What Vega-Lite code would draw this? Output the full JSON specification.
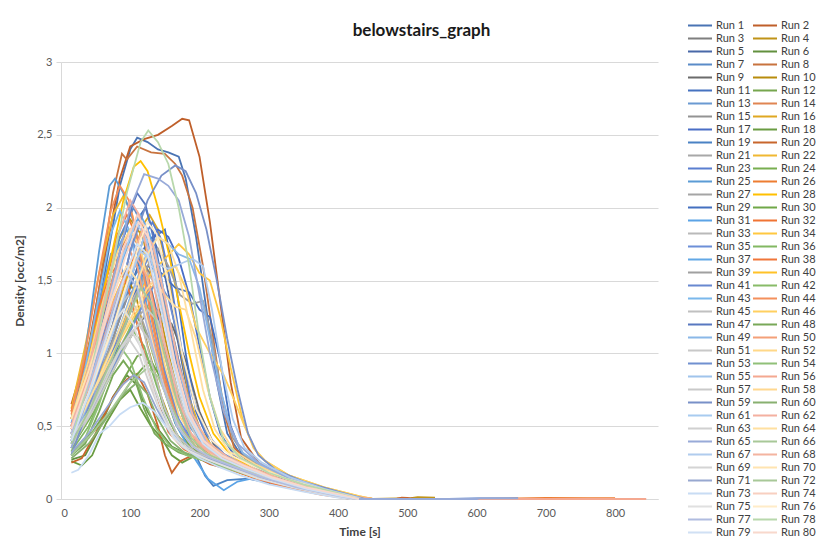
{
 "$schema": "https://vega.github.io/schema/vega-lite/v6.json",
 "width": 597,
 "height": 437,
 "autosize": {"type": "none"},
 "padding": {"left": 61, "top": 62, "right": 168, "bottom": 49},
 "background": "white",
 "title": {"text": "belowstairs_graph", "font": "Lato", "fontSize": 17, "fontWeight": "bold", "color": "#1a1a1a", "anchor": "middle", "dx": 62, "offset": -21},
 "config": {"view": {"stroke": null}, "font": "Lato"},
 "data": {"values": [
{"r":1,"t":15,"d":0.45},{"r":1,"t":40,"d":0.9},{"r":1,"t":65,"d":1.6},{"r":1,"t":85,"d":2.15},{"r":1,"t":100,"d":2.4},{"r":1,"t":110,"d":2.48},{"r":1,"t":125,"d":2.45},{"r":1,"t":140,"d":2.4},{"r":1,"t":155,"d":2.38},{"r":1,"t":170,"d":2.35},{"r":1,"t":180,"d":2.2},{"r":1,"t":195,"d":1.8},{"r":1,"t":210,"d":1.3},{"r":1,"t":225,"d":0.8},{"r":1,"t":240,"d":0.45},{"r":1,"t":260,"d":0.3},{"r":1,"t":290,"d":0.2},{"r":1,"t":330,"d":0.12},{"r":1,"t":380,"d":0.06},{"r":1,"t":430,"d":0},
{"r":2,"t":15,"d":0.65},{"r":2,"t":40,"d":1.05},{"r":2,"t":65,"d":1.7},{"r":2,"t":85,"d":2.2},{"r":2,"t":100,"d":2.42},{"r":2,"t":120,"d":2.47},{"r":2,"t":140,"d":2.5},{"r":2,"t":160,"d":2.56},{"r":2,"t":175,"d":2.61},{"r":2,"t":185,"d":2.6},{"r":2,"t":200,"d":2.35},{"r":2,"t":215,"d":1.9},{"r":2,"t":230,"d":1.35},{"r":2,"t":245,"d":0.8},{"r":2,"t":260,"d":0.42},{"r":2,"t":285,"d":0.25},{"r":2,"t":320,"d":0.14},{"r":2,"t":370,"d":0.07},{"r":2,"t":420,"d":0.02},{"r":2,"t":450,"d":0},
{"r":3,"t":15,"d":0.42},{"r":3,"t":40,"d":0.75},{"r":3,"t":65,"d":1.15},{"r":3,"t":90,"d":1.5},{"r":3,"t":115,"d":1.65},{"r":3,"t":135,"d":1.5},{"r":3,"t":155,"d":1.1},{"r":3,"t":175,"d":0.7},{"r":3,"t":195,"d":0.45},{"r":3,"t":220,"d":0.32},{"r":3,"t":250,"d":0.25},{"r":3,"t":290,"d":0.17},{"r":3,"t":340,"d":0.1},{"r":3,"t":390,"d":0.04},{"r":3,"t":425,"d":0},
{"r":4,"t":15,"d":0.6},{"r":4,"t":35,"d":0.95},{"r":4,"t":55,"d":1.35},{"r":4,"t":80,"d":1.75},{"r":4,"t":100,"d":1.92},{"r":4,"t":118,"d":1.8},{"r":4,"t":135,"d":1.45},{"r":4,"t":155,"d":1.0},{"r":4,"t":175,"d":0.62},{"r":4,"t":200,"d":0.4},{"r":4,"t":230,"d":0.3},{"r":4,"t":265,"d":0.22},{"r":4,"t":310,"d":0.13},{"r":4,"t":360,"d":0.07},{"r":4,"t":410,"d":0.02},{"r":4,"t":450,"d":0},{"r":4,"t":505,"d":0.006},{"r":4,"t":515,"d":0.012},{"r":4,"t":540,"d":0.01},
{"r":5,"t":15,"d":0.38},{"r":5,"t":45,"d":0.7},{"r":5,"t":75,"d":1.1},{"r":5,"t":100,"d":1.45},{"r":5,"t":120,"d":1.72},{"r":5,"t":132,"d":1.8},{"r":5,"t":145,"d":1.65},{"r":5,"t":160,"d":1.3},{"r":5,"t":178,"d":0.85},{"r":5,"t":195,"d":0.5},{"r":5,"t":215,"d":0.33},{"r":5,"t":245,"d":0.24},{"r":5,"t":285,"d":0.16},{"r":5,"t":335,"d":0.09},{"r":5,"t":385,"d":0.04},{"r":5,"t":420,"d":0},
{"r":6,"t":15,"d":0.27},{"r":6,"t":35,"d":0.3},{"r":6,"t":55,"d":0.48},{"r":6,"t":75,"d":0.7},{"r":6,"t":95,"d":0.85},{"r":6,"t":110,"d":0.78},{"r":6,"t":125,"d":0.6},{"r":6,"t":140,"d":0.48},{"r":6,"t":160,"d":0.36},{"r":6,"t":185,"d":0.3},{"r":6,"t":210,"d":0.26},{"r":6,"t":240,"d":0.22},{"r":6,"t":280,"d":0.15},{"r":6,"t":330,"d":0.09},{"r":6,"t":380,"d":0.05},{"r":6,"t":430,"d":0},
{"r":7,"t":15,"d":0.5},{"r":7,"t":40,"d":0.9},{"r":7,"t":65,"d":1.4},{"r":7,"t":85,"d":1.8},{"r":7,"t":105,"d":2.0},{"r":7,"t":120,"d":1.85},{"r":7,"t":140,"d":1.5},{"r":7,"t":160,"d":1.05},{"r":7,"t":180,"d":0.65},{"r":7,"t":200,"d":0.42},{"r":7,"t":225,"d":0.3},{"r":7,"t":260,"d":0.22},{"r":7,"t":300,"d":0.14},{"r":7,"t":350,"d":0.08},{"r":7,"t":400,"d":0.03},{"r":7,"t":430,"d":0},
{"r":8,"t":15,"d":0.55},{"r":8,"t":40,"d":1.0},{"r":8,"t":60,"d":1.6},{"r":8,"t":75,"d":2.1},{"r":8,"t":88,"d":2.37},{"r":8,"t":95,"d":2.33},{"r":8,"t":110,"d":2.42},{"r":8,"t":130,"d":2.38},{"r":8,"t":150,"d":2.37},{"r":8,"t":165,"d":2.3},{"r":8,"t":175,"d":2.22},{"r":8,"t":190,"d":2.0},{"r":8,"t":205,"d":1.6},{"r":8,"t":220,"d":1.1},{"r":8,"t":235,"d":0.6},{"r":8,"t":250,"d":0.35},{"r":8,"t":280,"d":0.22},{"r":8,"t":320,"d":0.13},{"r":8,"t":370,"d":0.06},{"r":8,"t":420,"d":0.01},
{"r":9,"t":15,"d":0.35},{"r":9,"t":45,"d":0.6},{"r":9,"t":75,"d":0.9},{"r":9,"t":105,"d":1.15},{"r":9,"t":125,"d":1.28},{"r":9,"t":140,"d":1.3},{"r":9,"t":160,"d":1.2},{"r":9,"t":180,"d":0.95},{"r":9,"t":200,"d":0.6},{"r":9,"t":220,"d":0.38},{"r":9,"t":245,"d":0.26},{"r":9,"t":280,"d":0.18},{"r":9,"t":330,"d":0.1},{"r":9,"t":380,"d":0.05},{"r":9,"t":420,"d":0},
{"r":10,"t":15,"d":0.55},{"r":10,"t":35,"d":0.85},{"r":10,"t":60,"d":1.25},{"r":10,"t":80,"d":1.5},{"r":10,"t":92,"d":1.55},{"r":10,"t":108,"d":1.4},{"r":10,"t":125,"d":1.05},{"r":10,"t":145,"d":0.7},{"r":10,"t":165,"d":0.45},{"r":10,"t":190,"d":0.33},{"r":10,"t":220,"d":0.27},{"r":10,"t":255,"d":0.2},{"r":10,"t":300,"d":0.12},{"r":10,"t":350,"d":0.06},{"r":10,"t":400,"d":0.02},{"r":10,"t":425,"d":0},
{"r":11,"t":15,"d":0.4},{"r":11,"t":45,"d":0.75},{"r":11,"t":75,"d":1.2},{"r":11,"t":100,"d":1.7},{"r":11,"t":115,"d":1.95},{"r":11,"t":122,"d":2.0},{"r":11,"t":135,"d":1.8},{"r":11,"t":150,"d":1.85},{"r":11,"t":165,"d":1.5},{"r":11,"t":180,"d":1.0},{"r":11,"t":195,"d":0.6},{"r":11,"t":215,"d":0.38},{"r":11,"t":240,"d":0.27},{"r":11,"t":275,"d":0.2},{"r":11,"t":320,"d":0.12},{"r":11,"t":370,"d":0.06},{"r":11,"t":420,"d":0.01},
{"r":12,"t":15,"d":0.3},{"r":12,"t":40,"d":0.42},{"r":12,"t":65,"d":0.6},{"r":12,"t":90,"d":0.82},{"r":12,"t":110,"d":0.98},{"r":12,"t":122,"d":1.0},{"r":12,"t":135,"d":0.85},{"r":12,"t":150,"d":0.6},{"r":12,"t":170,"d":0.42},{"r":12,"t":195,"d":0.32},{"r":12,"t":225,"d":0.27},{"r":12,"t":260,"d":0.2},{"r":12,"t":300,"d":0.13},{"r":12,"t":350,"d":0.07},{"r":12,"t":400,"d":0.03},{"r":12,"t":430,"d":0},
{"r":13,"t":15,"d":0.5},{"r":13,"t":35,"d":0.85},{"r":13,"t":55,"d":1.35},{"r":13,"t":72,"d":1.68},{"r":13,"t":85,"d":1.62},{"r":13,"t":100,"d":1.4},{"r":13,"t":120,"d":1.0},{"r":13,"t":140,"d":0.65},{"r":13,"t":160,"d":0.45},{"r":13,"t":185,"d":0.33},{"r":13,"t":215,"d":0.27},{"r":13,"t":250,"d":0.2},{"r":13,"t":295,"d":0.13},{"r":13,"t":345,"d":0.07},{"r":13,"t":400,"d":0.02},{"r":13,"t":420,"d":0},
{"r":14,"t":15,"d":0.45},{"r":14,"t":40,"d":0.85},{"r":14,"t":65,"d":1.35},{"r":14,"t":85,"d":1.7},{"r":14,"t":100,"d":1.85},{"r":14,"t":115,"d":1.7},{"r":14,"t":132,"d":1.3},{"r":14,"t":150,"d":0.85},{"r":14,"t":170,"d":0.52},{"r":14,"t":192,"d":0.36},{"r":14,"t":220,"d":0.28},{"r":14,"t":252,"d":0.21},{"r":14,"t":292,"d":0.14},{"r":14,"t":342,"d":0.07},{"r":14,"t":392,"d":0.03},{"r":14,"t":420,"d":0},
{"r":15,"t":15,"d":0.4},{"r":15,"t":45,"d":0.72},{"r":15,"t":75,"d":1.1},{"r":15,"t":95,"d":1.38},{"r":15,"t":107,"d":1.45},{"r":15,"t":122,"d":1.3},{"r":15,"t":140,"d":0.95},{"r":15,"t":160,"d":0.6},{"r":15,"t":180,"d":0.4},{"r":15,"t":205,"d":0.31},{"r":15,"t":235,"d":0.25},{"r":15,"t":270,"d":0.19},{"r":15,"t":315,"d":0.12},{"r":15,"t":365,"d":0.06},{"r":15,"t":415,"d":0.01},
{"r":16,"t":15,"d":0.48},{"r":16,"t":45,"d":0.8},{"r":16,"t":75,"d":1.2},{"r":16,"t":100,"d":1.6},{"r":16,"t":118,"d":1.88},{"r":16,"t":128,"d":1.95},{"r":16,"t":140,"d":1.85},{"r":16,"t":155,"d":1.55},{"r":16,"t":170,"d":1.1},{"r":16,"t":185,"d":0.7},{"r":16,"t":205,"d":0.42},{"r":16,"t":230,"d":0.3},{"r":16,"t":260,"d":0.23},{"r":16,"t":300,"d":0.15},{"r":16,"t":350,"d":0.08},{"r":16,"t":400,"d":0.03},{"r":16,"t":430,"d":0},
{"r":17,"t":15,"d":0.35},{"r":17,"t":45,"d":0.6},{"r":17,"t":75,"d":0.95},{"r":17,"t":105,"d":1.35},{"r":17,"t":125,"d":1.7},{"r":17,"t":140,"d":1.85},{"r":17,"t":155,"d":1.8},{"r":17,"t":170,"d":1.65},{"r":17,"t":185,"d":1.4},{"r":17,"t":200,"d":1.05},{"r":17,"t":215,"d":0.7},{"r":17,"t":230,"d":0.45},{"r":17,"t":250,"d":0.3},{"r":17,"t":280,"d":0.22},{"r":17,"t":320,"d":0.14},{"r":17,"t":370,"d":0.07},{"r":17,"t":420,"d":0.02},{"r":17,"t":440,"d":0},
{"r":18,"t":15,"d":0.26},{"r":18,"t":30,"d":0.23},{"r":18,"t":45,"d":0.3},{"r":18,"t":65,"d":0.52},{"r":18,"t":85,"d":0.68},{"r":18,"t":100,"d":0.75},{"r":18,"t":115,"d":0.62},{"r":18,"t":130,"d":0.5},{"r":18,"t":145,"d":0.42},{"r":18,"t":160,"d":0.3},{"r":18,"t":175,"d":0.25},{"r":18,"t":195,"d":0.3},{"r":18,"t":220,"d":0.26},{"r":18,"t":250,"d":0.2},{"r":18,"t":290,"d":0.14},{"r":18,"t":340,"d":0.08},{"r":18,"t":390,"d":0.04},{"r":18,"t":430,"d":0},
{"r":19,"t":15,"d":0.45},{"r":19,"t":45,"d":0.78},{"r":19,"t":75,"d":1.15},{"r":19,"t":100,"d":1.48},{"r":19,"t":115,"d":1.6},{"r":19,"t":130,"d":1.45},{"r":19,"t":150,"d":1.05},{"r":19,"t":170,"d":0.65},{"r":19,"t":190,"d":0.35},{"r":19,"t":208,"d":0.16},{"r":19,"t":220,"d":0.09},{"r":19,"t":240,"d":0.13},{"r":19,"t":270,"d":0.14},{"r":19,"t":320,"d":0.09},{"r":19,"t":370,"d":0.04},{"r":19,"t":420,"d":0},
{"r":20,"t":15,"d":0.25},{"r":20,"t":30,"d":0.28},{"r":20,"t":50,"d":0.45},{"r":20,"t":75,"d":0.7},{"r":20,"t":95,"d":0.82},{"r":20,"t":110,"d":0.86},{"r":20,"t":125,"d":0.72},{"r":20,"t":140,"d":0.5},{"r":20,"t":150,"d":0.3},{"r":20,"t":160,"d":0.18},{"r":20,"t":172,"d":0.26},{"r":20,"t":190,"d":0.3},{"r":20,"t":215,"d":0.24},{"r":20,"t":245,"d":0.2},{"r":20,"t":285,"d":0.14},{"r":20,"t":335,"d":0.08},{"r":20,"t":390,"d":0.03},{"r":20,"t":425,"d":0},{"r":20,"t":485,"d":0.003},{"r":20,"t":492,"d":0.01},{"r":20,"t":500,"d":0.008},{"r":20,"t":510,"d":0},
{"r":21,"t":15,"d":0.38},{"r":21,"t":45,"d":0.62},{"r":21,"t":75,"d":0.95},{"r":21,"t":105,"d":1.22},{"r":21,"t":130,"d":1.35},{"r":21,"t":150,"d":1.2},{"r":21,"t":170,"d":0.85},{"r":21,"t":190,"d":0.55},{"r":21,"t":210,"d":0.38},{"r":21,"t":235,"d":0.28},{"r":21,"t":265,"d":0.22},{"r":21,"t":300,"d":0.15},{"r":21,"t":350,"d":0.08},{"r":21,"t":400,"d":0.03},{"r":21,"t":430,"d":0},
{"r":22,"t":15,"d":0.62},{"r":22,"t":35,"d":1.05},{"r":22,"t":55,"d":1.55},{"r":22,"t":75,"d":1.95},{"r":22,"t":90,"d":2.08},{"r":22,"t":103,"d":1.95},{"r":22,"t":118,"d":1.6},{"r":22,"t":135,"d":1.15},{"r":22,"t":152,"d":0.75},{"r":22,"t":170,"d":0.48},{"r":22,"t":195,"d":0.34},{"r":22,"t":225,"d":0.27},{"r":22,"t":260,"d":0.2},{"r":22,"t":300,"d":0.13},{"r":22,"t":350,"d":0.07},{"r":22,"t":400,"d":0.02},{"r":22,"t":425,"d":0},
{"r":23,"t":15,"d":0.42},{"r":23,"t":45,"d":0.75},{"r":23,"t":75,"d":1.15},{"r":23,"t":100,"d":1.5},{"r":23,"t":120,"d":1.8},{"r":23,"t":132,"d":1.9},{"r":23,"t":145,"d":1.78},{"r":23,"t":160,"d":1.45},{"r":23,"t":175,"d":1.0},{"r":23,"t":190,"d":0.6},{"r":23,"t":210,"d":0.38},{"r":23,"t":235,"d":0.28},{"r":23,"t":270,"d":0.2},{"r":23,"t":315,"d":0.12},{"r":23,"t":365,"d":0.06},{"r":23,"t":415,"d":0.01},
{"r":24,"t":15,"d":0.35},{"r":24,"t":45,"d":0.58},{"r":24,"t":70,"d":0.85},{"r":24,"t":95,"d":1.12},{"r":24,"t":110,"d":1.25},{"r":24,"t":125,"d":1.12},{"r":24,"t":145,"d":0.8},{"r":24,"t":165,"d":0.52},{"r":24,"t":185,"d":0.36},{"r":24,"t":210,"d":0.29},{"r":24,"t":240,"d":0.23},{"r":24,"t":275,"d":0.17},{"r":24,"t":320,"d":0.1},{"r":24,"t":370,"d":0.05},{"r":24,"t":420,"d":0},
{"r":25,"t":15,"d":0.55},{"r":25,"t":35,"d":1.0},{"r":25,"t":55,"d":1.7},{"r":25,"t":70,"d":2.15},{"r":25,"t":78,"d":2.2},{"r":25,"t":90,"d":2.1},{"r":25,"t":105,"d":1.9},{"r":25,"t":120,"d":1.6},{"r":25,"t":140,"d":1.2},{"r":25,"t":160,"d":0.8},{"r":25,"t":185,"d":0.5},{"r":25,"t":210,"d":0.35},{"r":25,"t":240,"d":0.25},{"r":25,"t":280,"d":0.18},{"r":25,"t":330,"d":0.1},{"r":25,"t":380,"d":0.04},{"r":25,"t":420,"d":0},
{"r":26,"t":15,"d":0.5},{"r":26,"t":40,"d":0.95},{"r":26,"t":60,"d":1.4},{"r":26,"t":80,"d":1.8},{"r":26,"t":95,"d":1.95},{"r":26,"t":110,"d":1.8},{"r":26,"t":125,"d":1.4},{"r":26,"t":145,"d":0.9},{"r":26,"t":165,"d":0.55},{"r":26,"t":185,"d":0.38},{"r":26,"t":210,"d":0.3},{"r":26,"t":240,"d":0.24},{"r":26,"t":275,"d":0.18},{"r":26,"t":320,"d":0.11},{"r":26,"t":370,"d":0.05},{"r":26,"t":420,"d":0.01},{"r":26,"t":450,"d":0},{"r":26,"t":600,"d":0},{"r":26,"t":660,"d":0.004},{"r":26,"t":700,"d":0.008},{"r":26,"t":760,"d":0.006},{"r":26,"t":800,"d":0.005},
{"r":27,"t":15,"d":0.45},{"r":27,"t":45,"d":0.75},{"r":27,"t":75,"d":1.08},{"r":27,"t":100,"d":1.3},{"r":27,"t":118,"d":1.22},{"r":27,"t":138,"d":0.95},{"r":27,"t":158,"d":0.62},{"r":27,"t":178,"d":0.42},{"r":27,"t":200,"d":0.32},{"r":27,"t":228,"d":0.26},{"r":27,"t":260,"d":0.2},{"r":27,"t":300,"d":0.13},{"r":27,"t":350,"d":0.07},{"r":27,"t":400,"d":0.02},{"r":27,"t":425,"d":0},
{"r":28,"t":15,"d":0.5},{"r":28,"t":40,"d":0.95},{"r":28,"t":65,"d":1.5},{"r":28,"t":90,"d":2.05},{"r":28,"t":105,"d":2.28},{"r":28,"t":115,"d":2.32},{"r":28,"t":125,"d":2.25},{"r":28,"t":140,"d":2.0},{"r":28,"t":155,"d":1.7},{"r":28,"t":170,"d":1.35},{"r":28,"t":185,"d":1.0},{"r":28,"t":200,"d":0.7},{"r":28,"t":220,"d":0.45},{"r":28,"t":245,"d":0.3},{"r":28,"t":280,"d":0.2},{"r":28,"t":330,"d":0.12},{"r":28,"t":380,"d":0.05},{"r":28,"t":420,"d":0},
{"r":29,"t":15,"d":0.4},{"r":29,"t":45,"d":0.7},{"r":29,"t":75,"d":1.05},{"r":29,"t":105,"d":1.4},{"r":29,"t":125,"d":1.6},{"r":29,"t":145,"d":1.55},{"r":29,"t":165,"d":1.45},{"r":29,"t":185,"d":1.42},{"r":29,"t":200,"d":1.3},{"r":29,"t":215,"d":1.25},{"r":29,"t":230,"d":0.95},{"r":29,"t":245,"d":0.5},{"r":29,"t":260,"d":0.32},{"r":29,"t":285,"d":0.22},{"r":29,"t":320,"d":0.14},{"r":29,"t":370,"d":0.07},{"r":29,"t":420,"d":0.02},{"r":29,"t":440,"d":0},{"r":29,"t":560,"d":0},{"r":29,"t":600,"d":0.004},{"r":29,"t":660,"d":0.004},
{"r":30,"t":15,"d":0.32},{"r":30,"t":45,"d":0.45},{"r":30,"t":75,"d":0.62},{"r":30,"t":100,"d":0.8},{"r":30,"t":118,"d":0.9},{"r":30,"t":130,"d":0.95},{"r":30,"t":145,"d":0.82},{"r":30,"t":160,"d":0.6},{"r":30,"t":180,"d":0.4},{"r":30,"t":200,"d":0.3},{"r":30,"t":225,"d":0.25},{"r":30,"t":255,"d":0.2},{"r":30,"t":295,"d":0.14},{"r":30,"t":345,"d":0.08},{"r":30,"t":400,"d":0.03},{"r":30,"t":430,"d":0},
{"r":31,"t":15,"d":0.52},{"r":31,"t":40,"d":0.92},{"r":31,"t":60,"d":1.35},{"r":31,"t":80,"d":1.7},{"r":31,"t":95,"d":1.85},{"r":31,"t":110,"d":1.7},{"r":31,"t":125,"d":1.3},{"r":31,"t":145,"d":0.85},{"r":31,"t":165,"d":0.52},{"r":31,"t":190,"d":0.3},{"r":31,"t":212,"d":0.14},{"r":31,"t":235,"d":0.06},{"r":31,"t":255,"d":0.12},{"r":31,"t":285,"d":0.15},{"r":31,"t":335,"d":0.08},{"r":31,"t":385,"d":0.03},{"r":31,"t":420,"d":0},
{"r":32,"t":15,"d":0.48},{"r":32,"t":45,"d":0.85},{"r":32,"t":70,"d":1.25},{"r":32,"t":95,"d":1.58},{"r":32,"t":110,"d":1.7},{"r":32,"t":125,"d":1.55},{"r":32,"t":140,"d":1.2},{"r":32,"t":160,"d":0.8},{"r":32,"t":180,"d":0.5},{"r":32,"t":200,"d":0.35},{"r":32,"t":225,"d":0.28},{"r":32,"t":255,"d":0.22},{"r":32,"t":295,"d":0.15},{"r":32,"t":345,"d":0.08},{"r":32,"t":400,"d":0.03},{"r":32,"t":430,"d":0},
{"r":33,"t":15,"d":0.4},{"r":33,"t":45,"d":0.68},{"r":33,"t":75,"d":1.0},{"r":33,"t":105,"d":1.38},{"r":33,"t":125,"d":1.55},{"r":33,"t":140,"d":1.45},{"r":33,"t":158,"d":1.1},{"r":33,"t":178,"d":0.7},{"r":33,"t":198,"d":0.45},{"r":33,"t":220,"d":0.32},{"r":33,"t":250,"d":0.25},{"r":33,"t":285,"d":0.18},{"r":33,"t":330,"d":0.11},{"r":33,"t":380,"d":0.05},{"r":33,"t":425,"d":0},
{"r":34,"t":15,"d":0.45},{"r":34,"t":45,"d":0.75},{"r":34,"t":75,"d":1.05},{"r":34,"t":105,"d":1.35},{"r":34,"t":130,"d":1.55},{"r":34,"t":150,"d":1.65},{"r":34,"t":170,"d":1.75},{"r":34,"t":185,"d":1.68},{"r":34,"t":200,"d":1.55},{"r":34,"t":215,"d":1.5},{"r":34,"t":230,"d":1.25},{"r":34,"t":245,"d":0.9},{"r":34,"t":262,"d":0.55},{"r":34,"t":278,"d":0.35},{"r":34,"t":295,"d":0.26},{"r":34,"t":330,"d":0.16},{"r":34,"t":380,"d":0.08},{"r":34,"t":430,"d":0.02},{"r":34,"t":450,"d":0},
{"r":35,"t":15,"d":0.45},{"r":35,"t":40,"d":0.8},{"r":35,"t":65,"d":1.2},{"r":35,"t":85,"d":1.6},{"r":35,"t":100,"d":1.78},{"r":35,"t":115,"d":1.65},{"r":35,"t":132,"d":1.3},{"r":35,"t":150,"d":0.88},{"r":35,"t":170,"d":0.55},{"r":35,"t":192,"d":0.37},{"r":35,"t":218,"d":0.28},{"r":35,"t":250,"d":0.21},{"r":35,"t":290,"d":0.14},{"r":35,"t":340,"d":0.08},{"r":35,"t":390,"d":0.03},{"r":35,"t":425,"d":0},
{"r":36,"t":15,"d":0.33},{"r":36,"t":40,"d":0.5},{"r":36,"t":65,"d":0.78},{"r":36,"t":90,"d":1.02},{"r":36,"t":105,"d":1.15},{"r":36,"t":120,"d":1.05},{"r":36,"t":138,"d":0.78},{"r":36,"t":158,"d":0.52},{"r":36,"t":178,"d":0.36},{"r":36,"t":200,"d":0.3},{"r":36,"t":230,"d":0.25},{"r":36,"t":265,"d":0.19},{"r":36,"t":310,"d":0.12},{"r":36,"t":360,"d":0.06},{"r":36,"t":410,"d":0.02},{"r":36,"t":430,"d":0},
{"r":37,"t":15,"d":0.42},{"r":37,"t":40,"d":0.8},{"r":37,"t":65,"d":1.25},{"r":37,"t":90,"d":1.65},{"r":37,"t":108,"d":1.9},{"r":37,"t":115,"d":1.95},{"r":37,"t":128,"d":1.82},{"r":37,"t":145,"d":1.45},{"r":37,"t":162,"d":1.0},{"r":37,"t":180,"d":0.62},{"r":37,"t":200,"d":0.4},{"r":37,"t":225,"d":0.3},{"r":37,"t":255,"d":0.23},{"r":37,"t":295,"d":0.15},{"r":37,"t":345,"d":0.08},{"r":37,"t":395,"d":0.03},{"r":37,"t":430,"d":0},
{"r":38,"t":15,"d":0.6},{"r":38,"t":35,"d":0.95},{"r":38,"t":55,"d":1.32},{"r":38,"t":72,"d":1.55},{"r":38,"t":82,"d":1.6},{"r":38,"t":97,"d":1.45},{"r":38,"t":115,"d":1.1},{"r":38,"t":135,"d":0.72},{"r":38,"t":155,"d":0.46},{"r":38,"t":178,"d":0.34},{"r":38,"t":205,"d":0.28},{"r":38,"t":235,"d":0.22},{"r":38,"t":275,"d":0.15},{"r":38,"t":325,"d":0.08},{"r":38,"t":375,"d":0.03},{"r":38,"t":420,"d":0},
{"r":39,"t":15,"d":0.38},{"r":39,"t":45,"d":0.65},{"r":39,"t":75,"d":1.0},{"r":39,"t":105,"d":1.35},{"r":39,"t":125,"d":1.6},{"r":39,"t":140,"d":1.72},{"r":39,"t":155,"d":1.6},{"r":39,"t":172,"d":1.4},{"r":39,"t":190,"d":1.34},{"r":39,"t":205,"d":1.36},{"r":39,"t":218,"d":1.1},{"r":39,"t":232,"d":0.72},{"r":39,"t":248,"d":0.42},{"r":39,"t":265,"d":0.3},{"r":39,"t":290,"d":0.22},{"r":39,"t":325,"d":0.14},{"r":39,"t":375,"d":0.07},{"r":39,"t":425,"d":0.01},
{"r":40,"t":15,"d":0.55},{"r":40,"t":40,"d":0.9},{"r":40,"t":65,"d":1.25},{"r":40,"t":90,"d":1.52},{"r":40,"t":110,"d":1.66},{"r":40,"t":125,"d":1.7},{"r":40,"t":140,"d":1.55},{"r":40,"t":158,"d":1.2},{"r":40,"t":178,"d":0.78},{"r":40,"t":198,"d":0.5},{"r":40,"t":220,"d":0.35},{"r":40,"t":248,"d":0.27},{"r":40,"t":285,"d":0.19},{"r":40,"t":330,"d":0.11},{"r":40,"t":380,"d":0.05},{"r":40,"t":425,"d":0},
{"r":41,"t":15,"d":0.4},{"r":41,"t":45,"d":0.7},{"r":41,"t":75,"d":1.02},{"r":41,"t":100,"d":1.38},{"r":41,"t":125,"d":1.65},{"r":41,"t":140,"d":1.55},{"r":41,"t":158,"d":1.2},{"r":41,"t":178,"d":0.78},{"r":41,"t":198,"d":0.48},{"r":41,"t":220,"d":0.33},{"r":41,"t":250,"d":0.25},{"r":41,"t":290,"d":0.17},{"r":41,"t":340,"d":0.09},{"r":41,"t":390,"d":0.04},{"r":41,"t":425,"d":0},
{"r":42,"t":15,"d":0.35},{"r":42,"t":45,"d":0.6},{"r":42,"t":75,"d":0.9},{"r":42,"t":100,"d":1.18},{"r":42,"t":120,"d":1.35},{"r":42,"t":135,"d":1.25},{"r":42,"t":152,"d":0.95},{"r":42,"t":172,"d":0.62},{"r":42,"t":192,"d":0.4},{"r":42,"t":215,"d":0.3},{"r":42,"t":245,"d":0.24},{"r":42,"t":280,"d":0.18},{"r":42,"t":325,"d":0.11},{"r":42,"t":375,"d":0.05},{"r":42,"t":425,"d":0},
{"r":43,"t":15,"d":0.5},{"r":43,"t":35,"d":0.9},{"r":43,"t":55,"d":1.4},{"r":43,"t":72,"d":1.82},{"r":43,"t":85,"d":1.98},{"r":43,"t":98,"d":1.85},{"r":43,"t":115,"d":1.5},{"r":43,"t":135,"d":1.05},{"r":43,"t":155,"d":0.68},{"r":43,"t":175,"d":0.45},{"r":43,"t":200,"d":0.33},{"r":43,"t":230,"d":0.26},{"r":43,"t":265,"d":0.19},{"r":43,"t":310,"d":0.12},{"r":43,"t":360,"d":0.06},{"r":43,"t":410,"d":0.01},
{"r":44,"t":15,"d":0.58},{"r":44,"t":35,"d":1.0},{"r":44,"t":55,"d":1.55},{"r":44,"t":72,"d":1.98},{"r":44,"t":85,"d":2.15},{"r":44,"t":98,"d":2.05},{"r":44,"t":112,"d":1.75},{"r":44,"t":130,"d":1.25},{"r":44,"t":150,"d":0.8},{"r":44,"t":170,"d":0.5},{"r":44,"t":195,"d":0.36},{"r":44,"t":225,"d":0.28},{"r":44,"t":260,"d":0.21},{"r":44,"t":305,"d":0.13},{"r":44,"t":355,"d":0.07},{"r":44,"t":405,"d":0.02},{"r":44,"t":425,"d":0},
{"r":45,"t":15,"d":0.42},{"r":45,"t":40,"d":0.7},{"r":45,"t":65,"d":1.05},{"r":45,"t":85,"d":1.32},{"r":45,"t":97,"d":1.4},{"r":45,"t":112,"d":1.28},{"r":45,"t":130,"d":0.95},{"r":45,"t":150,"d":0.62},{"r":45,"t":170,"d":0.42},{"r":45,"t":195,"d":0.32},{"r":45,"t":225,"d":0.26},{"r":45,"t":260,"d":0.2},{"r":45,"t":300,"d":0.13},{"r":45,"t":350,"d":0.07},{"r":45,"t":400,"d":0.02},{"r":45,"t":425,"d":0},
{"r":46,"t":15,"d":0.45},{"r":46,"t":45,"d":0.72},{"r":46,"t":75,"d":1.0},{"r":46,"t":105,"d":1.25},{"r":46,"t":130,"d":1.45},{"r":46,"t":150,"d":1.55},{"r":46,"t":165,"d":1.6},{"r":46,"t":180,"d":1.45},{"r":46,"t":195,"d":1.18},{"r":46,"t":215,"d":1.0},{"r":46,"t":235,"d":0.85},{"r":46,"t":250,"d":0.68},{"r":46,"t":265,"d":0.5},{"r":46,"t":280,"d":0.34},{"r":46,"t":295,"d":0.26},{"r":46,"t":330,"d":0.16},{"r":46,"t":380,"d":0.08},{"r":46,"t":430,"d":0.02},{"r":46,"t":450,"d":0},
{"r":47,"t":15,"d":0.45},{"r":47,"t":40,"d":0.85},{"r":47,"t":65,"d":1.3},{"r":47,"t":88,"d":1.75},{"r":47,"t":102,"d":2.0},{"r":47,"t":110,"d":2.1},{"r":47,"t":122,"d":2.02},{"r":47,"t":138,"d":1.7},{"r":47,"t":155,"d":1.25},{"r":47,"t":172,"d":0.82},{"r":47,"t":190,"d":0.52},{"r":47,"t":212,"d":0.36},{"r":47,"t":240,"d":0.27},{"r":47,"t":275,"d":0.2},{"r":47,"t":320,"d":0.12},{"r":47,"t":370,"d":0.06},{"r":47,"t":420,"d":0.01},
{"r":48,"t":15,"d":0.3},{"r":48,"t":35,"d":0.38},{"r":48,"t":55,"d":0.6},{"r":48,"t":75,"d":0.85},{"r":48,"t":90,"d":0.95},{"r":48,"t":105,"d":0.85},{"r":48,"t":120,"d":0.62},{"r":48,"t":135,"d":0.45},{"r":48,"t":150,"d":0.38},{"r":48,"t":170,"d":0.32},{"r":48,"t":195,"d":0.28},{"r":48,"t":225,"d":0.24},{"r":48,"t":260,"d":0.19},{"r":48,"t":300,"d":0.13},{"r":48,"t":350,"d":0.07},{"r":48,"t":400,"d":0.03},{"r":48,"t":430,"d":0},
{"r":49,"t":15,"d":0.4},{"r":49,"t":45,"d":0.7},{"r":49,"t":75,"d":1.05},{"r":49,"t":105,"d":1.45},{"r":49,"t":125,"d":1.7},{"r":49,"t":140,"d":1.8},{"r":49,"t":155,"d":1.75},{"r":49,"t":170,"d":1.68},{"r":49,"t":185,"d":1.65},{"r":49,"t":200,"d":1.45},{"r":49,"t":215,"d":1.1},{"r":49,"t":230,"d":0.75},{"r":49,"t":245,"d":0.48},{"r":49,"t":262,"d":0.32},{"r":49,"t":290,"d":0.23},{"r":49,"t":330,"d":0.14},{"r":49,"t":380,"d":0.07},{"r":49,"t":430,"d":0.01},
{"r":50,"t":15,"d":0.5},{"r":50,"t":40,"d":0.88},{"r":50,"t":62,"d":1.3},{"r":50,"t":82,"d":1.62},{"r":50,"t":95,"d":1.75},{"r":50,"t":110,"d":1.6},{"r":50,"t":128,"d":1.2},{"r":50,"t":148,"d":0.78},{"r":50,"t":168,"d":0.5},{"r":50,"t":190,"d":0.36},{"r":50,"t":218,"d":0.28},{"r":50,"t":250,"d":0.22},{"r":50,"t":290,"d":0.15},{"r":50,"t":340,"d":0.08},{"r":50,"t":390,"d":0.03},{"r":50,"t":425,"d":0},
{"r":51,"t":15,"d":0.36},{"r":51,"t":45,"d":0.6},{"r":51,"t":75,"d":0.9},{"r":51,"t":98,"d":1.12},{"r":51,"t":112,"d":1.2},{"r":51,"t":128,"d":1.08},{"r":51,"t":148,"d":0.78},{"r":51,"t":168,"d":0.52},{"r":51,"t":190,"d":0.37},{"r":51,"t":215,"d":0.3},{"r":51,"t":245,"d":0.24},{"r":51,"t":280,"d":0.18},{"r":51,"t":325,"d":0.11},{"r":51,"t":375,"d":0.05},{"r":51,"t":425,"d":0},
{"r":52,"t":15,"d":0.55},{"r":52,"t":40,"d":0.95},{"r":52,"t":62,"d":1.38},{"r":52,"t":82,"d":1.7},{"r":52,"t":100,"d":1.85},{"r":52,"t":115,"d":1.72},{"r":52,"t":132,"d":1.35},{"r":52,"t":150,"d":0.92},{"r":52,"t":170,"d":0.58},{"r":52,"t":192,"d":0.4},{"r":52,"t":220,"d":0.3},{"r":52,"t":252,"d":0.23},{"r":52,"t":292,"d":0.15},{"r":52,"t":342,"d":0.08},{"r":52,"t":392,"d":0.03},{"r":52,"t":425,"d":0},
{"r":53,"t":15,"d":0.38},{"r":53,"t":45,"d":0.62},{"r":53,"t":75,"d":0.9},{"r":53,"t":105,"d":1.2},{"r":53,"t":125,"d":1.4},{"r":53,"t":140,"d":1.5},{"r":53,"t":155,"d":1.38},{"r":53,"t":172,"d":1.05},{"r":53,"t":190,"d":0.7},{"r":53,"t":210,"d":0.45},{"r":53,"t":235,"d":0.31},{"r":53,"t":265,"d":0.23},{"r":53,"t":305,"d":0.15},{"r":53,"t":355,"d":0.08},{"r":53,"t":405,"d":0.03},{"r":53,"t":435,"d":0},
{"r":54,"t":15,"d":0.3},{"r":54,"t":35,"d":0.42},{"r":54,"t":55,"d":0.65},{"r":54,"t":72,"d":0.9},{"r":54,"t":85,"d":1.05},{"r":54,"t":100,"d":0.95},{"r":54,"t":118,"d":0.7},{"r":54,"t":138,"d":0.48},{"r":54,"t":158,"d":0.36},{"r":54,"t":182,"d":0.3},{"r":54,"t":210,"d":0.26},{"r":54,"t":240,"d":0.21},{"r":54,"t":280,"d":0.15},{"r":54,"t":330,"d":0.09},{"r":54,"t":380,"d":0.04},{"r":54,"t":425,"d":0},
{"r":55,"t":15,"d":0.42},{"r":55,"t":45,"d":0.75},{"r":55,"t":75,"d":1.15},{"r":55,"t":100,"d":1.5},{"r":55,"t":120,"d":1.8},{"r":55,"t":135,"d":1.72},{"r":55,"t":152,"d":1.35},{"r":55,"t":170,"d":0.9},{"r":55,"t":190,"d":0.55},{"r":55,"t":212,"d":0.37},{"r":55,"t":240,"d":0.28},{"r":55,"t":275,"d":0.2},{"r":55,"t":320,"d":0.12},{"r":55,"t":370,"d":0.06},{"r":55,"t":420,"d":0.01},
{"r":56,"t":15,"d":0.5},{"r":56,"t":40,"d":0.85},{"r":56,"t":65,"d":1.22},{"r":56,"t":90,"d":1.52},{"r":56,"t":110,"d":1.65},{"r":56,"t":125,"d":1.52},{"r":56,"t":142,"d":1.15},{"r":56,"t":162,"d":0.75},{"r":56,"t":182,"d":0.48},{"r":56,"t":205,"d":0.35},{"r":56,"t":232,"d":0.28},{"r":56,"t":265,"d":0.21},{"r":56,"t":305,"d":0.14},{"r":56,"t":355,"d":0.08},{"r":56,"t":405,"d":0.03},{"r":56,"t":450,"d":0},{"r":56,"t":845,"d":0},
{"r":57,"t":15,"d":0.38},{"r":57,"t":45,"d":0.6},{"r":57,"t":75,"d":0.88},{"r":57,"t":105,"d":1.15},{"r":57,"t":125,"d":1.3},{"r":57,"t":140,"d":1.22},{"r":57,"t":158,"d":0.92},{"r":57,"t":178,"d":0.6},{"r":57,"t":198,"d":0.4},{"r":57,"t":222,"d":0.3},{"r":57,"t":252,"d":0.24},{"r":57,"t":288,"d":0.17},{"r":57,"t":335,"d":0.1},{"r":57,"t":385,"d":0.04},{"r":57,"t":425,"d":0},
{"r":58,"t":15,"d":0.45},{"r":58,"t":45,"d":0.72},{"r":58,"t":75,"d":1.0},{"r":58,"t":105,"d":1.28},{"r":58,"t":125,"d":1.45},{"r":58,"t":135,"d":1.5},{"r":58,"t":150,"d":1.4},{"r":58,"t":165,"d":1.32},{"r":58,"t":180,"d":1.3},{"r":58,"t":195,"d":1.1},{"r":58,"t":212,"d":0.75},{"r":58,"t":230,"d":0.48},{"r":58,"t":250,"d":0.33},{"r":58,"t":280,"d":0.24},{"r":58,"t":320,"d":0.15},{"r":58,"t":370,"d":0.08},{"r":58,"t":420,"d":0.02},{"r":58,"t":440,"d":0},
{"r":59,"t":15,"d":0.3},{"r":59,"t":45,"d":0.7},{"r":59,"t":75,"d":1.2},{"r":59,"t":100,"d":1.7},{"r":59,"t":125,"d":2.05},{"r":59,"t":145,"d":2.22},{"r":59,"t":165,"d":2.29},{"r":59,"t":180,"d":2.25},{"r":59,"t":195,"d":2.1},{"r":59,"t":210,"d":1.85},{"r":59,"t":225,"d":1.5},{"r":59,"t":240,"d":1.1},{"r":59,"t":255,"d":0.75},{"r":59,"t":270,"d":0.45},{"r":59,"t":285,"d":0.3},{"r":59,"t":310,"d":0.2},{"r":59,"t":350,"d":0.12},{"r":59,"t":400,"d":0.05},{"r":59,"t":440,"d":0},
{"r":60,"t":15,"d":0.28},{"r":60,"t":40,"d":0.38},{"r":60,"t":65,"d":0.55},{"r":60,"t":90,"d":0.72},{"r":60,"t":110,"d":0.8},{"r":60,"t":125,"d":0.72},{"r":60,"t":140,"d":0.55},{"r":60,"t":158,"d":0.4},{"r":60,"t":178,"d":0.32},{"r":60,"t":200,"d":0.28},{"r":60,"t":228,"d":0.24},{"r":60,"t":260,"d":0.19},{"r":60,"t":300,"d":0.13},{"r":60,"t":350,"d":0.07},{"r":60,"t":400,"d":0.03},{"r":60,"t":430,"d":0},
{"r":61,"t":15,"d":0.45},{"r":61,"t":40,"d":0.82},{"r":61,"t":65,"d":1.25},{"r":61,"t":88,"d":1.65},{"r":61,"t":108,"d":1.9},{"r":61,"t":122,"d":1.8},{"r":61,"t":140,"d":1.45},{"r":61,"t":160,"d":1.0},{"r":61,"t":180,"d":0.62},{"r":61,"t":200,"d":0.42},{"r":61,"t":225,"d":0.31},{"r":61,"t":255,"d":0.23},{"r":61,"t":295,"d":0.15},{"r":61,"t":345,"d":0.08},{"r":61,"t":395,"d":0.03},{"r":61,"t":425,"d":0},
{"r":62,"t":15,"d":0.5},{"r":62,"t":40,"d":0.9},{"r":62,"t":62,"d":1.35},{"r":62,"t":82,"d":1.8},{"r":62,"t":100,"d":2.05},{"r":62,"t":113,"d":1.95},{"r":62,"t":130,"d":1.58},{"r":62,"t":148,"d":1.1},{"r":62,"t":168,"d":0.7},{"r":62,"t":188,"d":0.45},{"r":62,"t":212,"d":0.33},{"r":62,"t":242,"d":0.26},{"r":62,"t":280,"d":0.18},{"r":62,"t":325,"d":0.11},{"r":62,"t":375,"d":0.05},{"r":62,"t":425,"d":0},
{"r":63,"t":15,"d":0.4},{"r":63,"t":40,"d":0.58},{"r":63,"t":65,"d":0.82},{"r":63,"t":85,"d":1.02},{"r":63,"t":98,"d":1.1},{"r":63,"t":112,"d":1.0},{"r":63,"t":130,"d":0.76},{"r":63,"t":150,"d":0.52},{"r":63,"t":170,"d":0.38},{"r":63,"t":195,"d":0.3},{"r":63,"t":225,"d":0.25},{"r":63,"t":260,"d":0.19},{"r":63,"t":300,"d":0.13},{"r":63,"t":350,"d":0.07},{"r":63,"t":400,"d":0.02},{"r":63,"t":425,"d":0},
{"r":64,"t":15,"d":0.42},{"r":64,"t":45,"d":0.72},{"r":64,"t":75,"d":1.05},{"r":64,"t":105,"d":1.42},{"r":64,"t":125,"d":1.68},{"r":64,"t":140,"d":1.8},{"r":64,"t":155,"d":1.75},{"r":64,"t":170,"d":1.55},{"r":64,"t":188,"d":1.15},{"r":64,"t":205,"d":0.75},{"r":64,"t":222,"d":0.48},{"r":64,"t":242,"d":0.33},{"r":64,"t":270,"d":0.25},{"r":64,"t":305,"d":0.17},{"r":64,"t":350,"d":0.1},{"r":64,"t":400,"d":0.04},{"r":64,"t":435,"d":0},
{"r":65,"t":15,"d":0.35},{"r":65,"t":45,"d":0.8},{"r":65,"t":75,"d":1.5},{"r":65,"t":100,"d":2.0},{"r":65,"t":120,"d":2.23},{"r":65,"t":140,"d":2.2},{"r":65,"t":155,"d":2.15},{"r":65,"t":170,"d":2.05},{"r":65,"t":185,"d":1.8},{"r":65,"t":200,"d":1.4},{"r":65,"t":215,"d":1.0},{"r":65,"t":235,"d":0.6},{"r":65,"t":255,"d":0.38},{"r":65,"t":285,"d":0.25},{"r":65,"t":330,"d":0.14},{"r":65,"t":380,"d":0.06},{"r":65,"t":430,"d":0},{"r":65,"t":600,"d":0},{"r":65,"t":605,"d":0.004},{"r":65,"t":660,"d":0.004},
{"r":66,"t":15,"d":0.3},{"r":66,"t":45,"d":0.45},{"r":66,"t":75,"d":0.63},{"r":66,"t":100,"d":0.8},{"r":66,"t":125,"d":0.9},{"r":66,"t":140,"d":0.84},{"r":66,"t":158,"d":0.65},{"r":66,"t":178,"d":0.45},{"r":66,"t":200,"d":0.33},{"r":66,"t":225,"d":0.27},{"r":66,"t":255,"d":0.21},{"r":66,"t":290,"d":0.15},{"r":66,"t":335,"d":0.09},{"r":66,"t":385,"d":0.04},{"r":66,"t":430,"d":0},
{"r":67,"t":15,"d":0.45},{"r":67,"t":45,"d":0.78},{"r":67,"t":75,"d":1.15},{"r":67,"t":100,"d":1.55},{"r":67,"t":115,"d":1.7},{"r":67,"t":135,"d":1.62},{"r":67,"t":155,"d":1.58},{"r":67,"t":175,"d":1.62},{"r":67,"t":190,"d":1.65},{"r":67,"t":205,"d":1.6},{"r":67,"t":218,"d":1.3},{"r":67,"t":232,"d":0.9},{"r":67,"t":248,"d":0.55},{"r":67,"t":265,"d":0.35},{"r":67,"t":290,"d":0.25},{"r":67,"t":330,"d":0.15},{"r":67,"t":380,"d":0.07},{"r":67,"t":430,"d":0.01},
{"r":68,"t":15,"d":0.48},{"r":68,"t":45,"d":0.82},{"r":68,"t":72,"d":1.22},{"r":68,"t":98,"d":1.6},{"r":68,"t":118,"d":1.85},{"r":68,"t":132,"d":1.75},{"r":68,"t":150,"d":1.38},{"r":68,"t":170,"d":0.92},{"r":68,"t":190,"d":0.58},{"r":68,"t":212,"d":0.39},{"r":68,"t":240,"d":0.29},{"r":68,"t":272,"d":0.22},{"r":68,"t":315,"d":0.14},{"r":68,"t":365,"d":0.07},{"r":68,"t":415,"d":0.02},{"r":68,"t":430,"d":0},
{"r":69,"t":15,"d":0.42},{"r":69,"t":40,"d":0.6},{"r":69,"t":65,"d":0.85},{"r":69,"t":88,"d":1.05},{"r":69,"t":102,"d":1.15},{"r":69,"t":118,"d":1.02},{"r":69,"t":136,"d":0.75},{"r":69,"t":156,"d":0.5},{"r":69,"t":176,"d":0.37},{"r":69,"t":200,"d":0.3},{"r":69,"t":230,"d":0.25},{"r":69,"t":265,"d":0.19},{"r":69,"t":305,"d":0.12},{"r":69,"t":355,"d":0.06},{"r":69,"t":405,"d":0.02},{"r":69,"t":425,"d":0},
{"r":70,"t":15,"d":0.55},{"r":70,"t":40,"d":0.88},{"r":70,"t":62,"d":1.22},{"r":70,"t":82,"d":1.48},{"r":70,"t":95,"d":1.6},{"r":70,"t":110,"d":1.5},{"r":70,"t":128,"d":1.15},{"r":70,"t":148,"d":0.76},{"r":70,"t":168,"d":0.5},{"r":70,"t":190,"d":0.36},{"r":70,"t":218,"d":0.29},{"r":70,"t":250,"d":0.22},{"r":70,"t":290,"d":0.15},{"r":70,"t":340,"d":0.08},{"r":70,"t":390,"d":0.03},{"r":70,"t":425,"d":0},
{"r":71,"t":15,"d":0.32},{"r":71,"t":40,"d":0.45},{"r":71,"t":65,"d":0.62},{"r":71,"t":88,"d":0.78},{"r":71,"t":105,"d":0.85},{"r":71,"t":120,"d":0.8},{"r":71,"t":138,"d":0.62},{"r":71,"t":158,"d":0.45},{"r":71,"t":178,"d":0.35},{"r":71,"t":200,"d":0.3},{"r":71,"t":228,"d":0.25},{"r":71,"t":260,"d":0.2},{"r":71,"t":300,"d":0.13},{"r":71,"t":350,"d":0.07},{"r":71,"t":400,"d":0.03},{"r":71,"t":430,"d":0},
{"r":72,"t":15,"d":0.38},{"r":72,"t":45,"d":0.65},{"r":72,"t":75,"d":0.98},{"r":72,"t":100,"d":1.28},{"r":72,"t":115,"d":1.45},{"r":72,"t":130,"d":1.35},{"r":72,"t":148,"d":1.02},{"r":72,"t":168,"d":0.66},{"r":72,"t":188,"d":0.42},{"r":72,"t":210,"d":0.31},{"r":72,"t":240,"d":0.25},{"r":72,"t":275,"d":0.19},{"r":72,"t":320,"d":0.12},{"r":72,"t":370,"d":0.06},{"r":72,"t":420,"d":0.01},
{"r":73,"t":15,"d":0.18},{"r":73,"t":25,"d":0.2},{"r":73,"t":40,"d":0.3},{"r":73,"t":56,"d":0.45},{"r":73,"t":70,"d":0.5},{"r":73,"t":85,"d":0.58},{"r":73,"t":100,"d":0.63},{"r":73,"t":118,"d":0.66},{"r":73,"t":135,"d":0.6},{"r":73,"t":155,"d":0.48},{"r":73,"t":175,"d":0.36},{"r":73,"t":200,"d":0.28},{"r":73,"t":228,"d":0.22},{"r":73,"t":260,"d":0.16},{"r":73,"t":300,"d":0.1},{"r":73,"t":350,"d":0.05},{"r":73,"t":400,"d":0.01},{"r":73,"t":420,"d":0},
{"r":74,"t":15,"d":0.45},{"r":74,"t":40,"d":0.82},{"r":74,"t":65,"d":1.28},{"r":74,"t":90,"d":1.72},{"r":74,"t":110,"d":1.95},{"r":74,"t":124,"d":1.85},{"r":74,"t":142,"d":1.45},{"r":74,"t":162,"d":0.98},{"r":74,"t":182,"d":0.6},{"r":74,"t":204,"d":0.4},{"r":74,"t":230,"d":0.3},{"r":74,"t":262,"d":0.23},{"r":74,"t":302,"d":0.15},{"r":74,"t":352,"d":0.08},{"r":74,"t":402,"d":0.03},{"r":74,"t":430,"d":0},
{"r":75,"t":15,"d":0.42},{"r":75,"t":38,"d":0.7},{"r":75,"t":60,"d":1.0},{"r":75,"t":78,"d":1.22},{"r":75,"t":90,"d":1.3},{"r":75,"t":105,"d":1.2},{"r":75,"t":122,"d":0.92},{"r":75,"t":142,"d":0.62},{"r":75,"t":162,"d":0.42},{"r":75,"t":185,"d":0.33},{"r":75,"t":212,"d":0.27},{"r":75,"t":245,"d":0.21},{"r":75,"t":285,"d":0.14},{"r":75,"t":335,"d":0.08},{"r":75,"t":385,"d":0.03},{"r":75,"t":420,"d":0},
{"r":76,"t":15,"d":0.45},{"r":76,"t":45,"d":0.78},{"r":76,"t":75,"d":1.18},{"r":76,"t":100,"d":1.55},{"r":76,"t":115,"d":1.78},{"r":76,"t":125,"d":1.9},{"r":76,"t":138,"d":1.82},{"r":76,"t":155,"d":1.48},{"r":76,"t":175,"d":1.0},{"r":76,"t":195,"d":0.62},{"r":76,"t":218,"d":0.4},{"r":76,"t":245,"d":0.3},{"r":76,"t":280,"d":0.22},{"r":76,"t":325,"d":0.14},{"r":76,"t":375,"d":0.07},{"r":76,"t":425,"d":0.01},
{"r":77,"t":15,"d":0.45},{"r":77,"t":40,"d":0.78},{"r":77,"t":62,"d":1.1},{"r":77,"t":82,"d":1.42},{"r":77,"t":95,"d":1.55},{"r":77,"t":110,"d":1.45},{"r":77,"t":128,"d":1.12},{"r":77,"t":148,"d":0.76},{"r":77,"t":168,"d":0.5},{"r":77,"t":190,"d":0.36},{"r":77,"t":218,"d":0.28},{"r":77,"t":250,"d":0.22},{"r":77,"t":290,"d":0.15},{"r":77,"t":340,"d":0.08},{"r":77,"t":390,"d":0.03},{"r":77,"t":425,"d":0},
{"r":78,"t":15,"d":0.4},{"r":78,"t":45,"d":0.9},{"r":78,"t":70,"d":1.5},{"r":78,"t":95,"d":2.1},{"r":78,"t":115,"d":2.45},{"r":78,"t":126,"d":2.53},{"r":78,"t":140,"d":2.45},{"r":78,"t":155,"d":2.3},{"r":78,"t":170,"d":2.0},{"r":78,"t":185,"d":1.6},{"r":78,"t":200,"d":1.1},{"r":78,"t":215,"d":0.7},{"r":78,"t":235,"d":0.4},{"r":78,"t":260,"d":0.28},{"r":78,"t":300,"d":0.18},{"r":78,"t":350,"d":0.1},{"r":78,"t":400,"d":0.04},{"r":78,"t":430,"d":0},
{"r":79,"t":15,"d":0.4},{"r":79,"t":40,"d":0.72},{"r":79,"t":65,"d":1.1},{"r":79,"t":90,"d":1.5},{"r":79,"t":110,"d":1.75},{"r":79,"t":125,"d":1.68},{"r":79,"t":142,"d":1.35},{"r":79,"t":162,"d":0.92},{"r":79,"t":182,"d":0.58},{"r":79,"t":205,"d":0.38},{"r":79,"t":232,"d":0.28},{"r":79,"t":265,"d":0.21},{"r":79,"t":305,"d":0.14},{"r":79,"t":355,"d":0.07},{"r":79,"t":405,"d":0.02},{"r":79,"t":430,"d":0},
{"r":80,"t":15,"d":0.48},{"r":80,"t":42,"d":0.85},{"r":80,"t":68,"d":1.28},{"r":80,"t":92,"d":1.65},{"r":80,"t":112,"d":1.9},{"r":80,"t":126,"d":1.8},{"r":80,"t":144,"d":1.42},{"r":80,"t":164,"d":0.95},{"r":80,"t":184,"d":0.6},{"r":80,"t":206,"d":0.4},{"r":80,"t":232,"d":0.3},{"r":80,"t":264,"d":0.23},{"r":80,"t":304,"d":0.15},{"r":80,"t":354,"d":0.08},{"r":80,"t":404,"d":0.03},{"r":80,"t":430,"d":0}
 ]},
 "mark": {"type": "line", "strokeWidth": 1.8},
 "encoding": {
  "x": {"field": "t", "type": "quantitative", "scale": {"domain": [0, 862], "nice": false},
   "axis": {"values": [0,100,200,300,400,500,600,700,800], "grid": false, "ticks": false, "domainColor": "#d9d9d9", "labelColor": "#595959", "labelFont": "Lato", "labelFontSize": 11, "labelPadding": 8, "title": "Time [s]", "titleFont": "Lato", "titleFontSize": 12, "titleFontWeight": "bold", "titleColor": "#404040", "titlePadding": 8}},
  "y": {"field": "d", "type": "quantitative", "scale": {"domain": [0, 3], "nice": false},
   "axis": {"values": [0,0.5,1,1.5,2,2.5,3], "gridColor": "#d9d9d9", "domainColor": "#d9d9d9", "tickColor": "#d9d9d9", "tickSize": 5, "labelColor": "#595959", "labelFont": "Lato", "labelFontSize": 11, "labelPadding": 4, "labelExpr": "replace(format(datum.value, '~g'), '.', ',')", "title": "Density [occ/m2]", "titleFont": "Lato", "titleFontSize": 12, "titleFontWeight": "bold", "titleColor": "#404040", "titlePadding": 10}},
  "color": {"field": "r", "type": "nominal",
   "scale": {"domain": [1,2,3,4,5,6,7,8,9,10,11,12,13,14,15,16,17,18,19,20,21,22,23,24,25,26,27,28,29,30,31,32,33,34,35,36,37,38,39,40,41,42,43,44,45,46,47,48,49,50,51,52,53,54,55,56,57,58,59,60,61,62,63,64,65,66,67,68,69,70,71,72,73,74,75,76,77,78,79,80],
    "range": ["#4a74b4","#bf5f2a","#7f7f7f","#c09318","#4868a8","#62903e","#5a8bc8","#c8733e","#6b6b6b","#b88c0c","#4672c0","#76a64e","#6a9ad2","#e08552","#939393","#dfa822","#4a6ec6","#6a9c42","#4a82c4","#c8662c","#a8a8a8","#f0b832","#5a7ed0","#78ae50","#5b9bd5","#ed7d31","#a5a5a5","#ffc000","#4470c0","#70a848","#5ba3e6","#f07434","#b9b9b9","#ffc840","#6d8fd8","#82b862","#62a8e6","#f0763a","#a0a0a0","#ffc228","#6888d0","#88bb68","#7ab8ec","#f4905c","#c0c0c0","#ffd060","#5878c0","#78a858","#8ab8e8","#f4a078","#c8c8c8","#ffd888","#7090d0","#90c078","#a0c4ec","#f4a890","#c9c9c9","#ffd890","#7890c8","#88b070","#a8cbf0","#f4b0a0","#d0d0d0","#ffe0a0","#98aad8","#a8c898","#b0ccee","#f4b4a0","#d4d4d4","#ffe4b0","#98a8d0","#a8c898","#c8dcf4","#f8cfc0","#e0e0e0","#ffecc8","#b0bce0","#b8d8ac","#d0e0f4","#f8d8cc"]},
   "legend": {"orient": "none", "direction": "horizontal", "legendX": 626, "legendY": -43, "columns": 2, "title": null, "symbolType": "stroke", "symbolSize": 576, "symbolStrokeWidth": 2, "labelFont": "Lato", "labelFontSize": 11, "labelColor": "#404040", "labelOffset": 3, "clipHeight": 13, "rowPadding": -0.13, "columnPadding": 1, "symbolLimit": 100, "labelExpr": "'Run ' + datum.label"}}
 }
}
